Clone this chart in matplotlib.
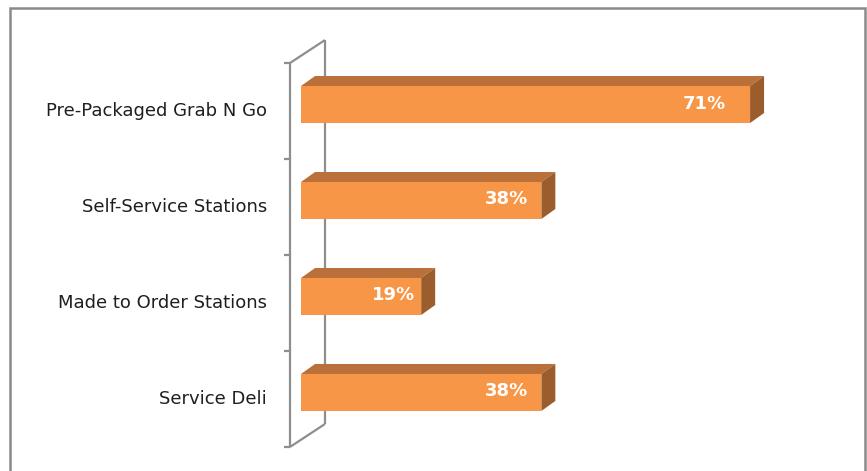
import matplotlib
matplotlib.use('Agg')
import matplotlib.pyplot as plt
from matplotlib.patches import Polygon, Rectangle

categories = ['Pre-Packaged Grab N Go', 'Self-Service Stations',
              'Made to Order Stations', 'Service Deli']
values = [71, 38, 19, 38]
labels = ['71%', '38%', '19%', '38%']

FRONT = '#F79646'
TOP = '#BA7038'
SIDE = '#9C5D2C'
WALL = '#8E8E8E'

plt.rcParams['font.family'] = ['DejaVu Sans']

W, H = 867, 471
fig = plt.figure(figsize=(W / 100, H / 100), dpi=100)
ax_l, ax_t, ax_r, ax_b = 301, 40, 807, 447
ax = fig.add_axes([ax_l / W, 1 - ax_b / H, (ax_r - ax_l) / W, (ax_b - ax_t) / H])
xmax = 80
ymin, ymax = -0.672, 3.568
ax.set_xlim(0, xmax)
ax.set_ylim(ymax, ymin)
ax.axis('off')

# pixels -> data units
sx = (ax_r - ax_l) / xmax
sy = (ax_b - ax_t) / (ymax - ymin)


def px(dx, dy):
    # dy positive = up on screen
    return dx / sx, -dy / sy


h = 37 / sy
ddx, ddy = px(14, 10)
pos = list(range(len(categories)))

# walls
fx, fy = px(-11, -6.5)
bx, by = px(24, 16.5)
n = len(categories)
top_f, bot_f = -0.5 + fy, n - 0.5 + fy
top_b, bot_b = -0.5 + by, n - 0.5 + by
wall_kw = dict(color=WALL, lw=1.6, clip_on=False, solid_capstyle='butt')
ax.plot([fx, fx], [top_f, bot_f], **wall_kw)
ax.plot([bx, bx], [top_b, bot_b], **wall_kw)
ax.plot([fx, bx], [top_f, top_b], **wall_kw)
ax.plot([fx, bx], [bot_f, bot_b], **wall_kw)
tx, _ = px(-6, 0)
for j in range(n + 1):
    ax.plot([fx + tx, fx], [j - 0.5 + fy] * 2, **wall_kw)

# bars
ax.barh(pos, values, height=h, color=FRONT, zorder=3)
for i, v in zip(pos, values):
    y0 = i - h / 2
    y1 = i + h / 2
    ax.add_patch(Polygon([(0, y0), (v, y0), (v + ddx, y0 + ddy), (ddx, y0 + ddy)],
                         closed=True, facecolor=TOP, edgecolor='none', zorder=3))
    ax.add_patch(Polygon([(v, y0), (v + ddx, y0 + ddy), (v + ddx, y1 + ddy), (v, y1)],
                         closed=True, facecolor=SIDE, edgecolor='none', zorder=3))

for i, v, lab in zip(pos, values, labels):
    ax.text(v * 0.945, i - 1 / sy, lab, ha='right', va='center', color='white',
            fontsize=13, fontweight='bold', zorder=4)

lx, _ = px(-34, 0)
for i, c in zip(pos, categories):
    ax.text(lx, i + fy, c, ha='right', va='center', fontsize=13, color='#1f1f1f',
            clip_on=False)

fig.add_artist(Rectangle((10 / W, -0.02), 855 / W, 1.02 - 8 / H, transform=fig.transFigure,
                         fill=False, edgecolor='#8A8A8A', lw=1.8))

fig.savefig('out.png', dpi=100)
